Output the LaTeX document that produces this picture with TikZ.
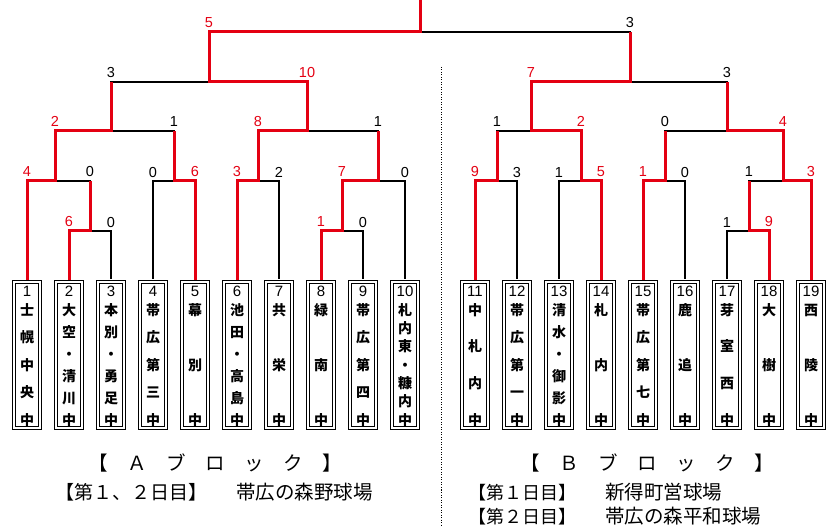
\documentclass[tikz,border=0pt]{standalone}
\usepackage{fontspec}
\setmainfont{Liberation Sans}
\newfontfamily\jfont{Noto Sans CJK JP}
\definecolor{winred}{RGB}{228,0,18}

\newcommand\bout[8][loseline]{%
  \coordinate (#2) at (#3,#4);
  \draw[loseline] (#6 |- #2) -- (#2);
  \draw[#1,line cap=butt] (#6) -- (#6 |- #2) node[score] {#8};
  \draw[winline] (#5) |- (#2) node[pos=.5,score,text=winred] {#7};
}
\newcommand\school[4]{%
  \node[teambox] (t#1) at (#2,355) {};
  \node[numtext] (t#1-n) at (#2,296.5) {#1};
  \foreach \kanji [count=\k] in {#4}
    \node[nametext] (t#1-\k) at ({#2},{310+110/#3*(\k-1)+5.3}) {\kanji};
  \node[nametext] (t#1-z) at (#2,425.3) {中};
}

\begin{document}
\begin{tikzpicture}[x=1pt,y=-1pt,
  winline/.style={draw=winred,line width=3pt,line cap=rect},
  loseline/.style={draw=black,line width=1.3pt,line cap=rect},
  score/.style={above=2.5pt,inner sep=0pt,font=\fontsize{14.5}{15}\selectfont},
  teambox/.style={draw=black,double=white,double distance=1.8pt,line width=0.9pt,
    minimum width=26.4pt,minimum height=146.4pt,inner sep=0pt,outer sep=3pt},
  numtext/.style={anchor=base,inner sep=0pt,font=\fontsize{15}{15}\selectfont},
  nametext/.style={anchor=base,inner sep=0pt,font=\jfont\bfseries\fontsize{14}{15}\selectfont},
  captext/.style={anchor=base west,inner sep=0pt,font=\jfont\fontsize{19.5}{20}\selectfont},
  sepline/.style={draw=black,line width=0.8pt,dash pattern=on 1pt off 1.5pt}]
\useasboundingbox (0,0) rectangle (839,526);

\school{1}{27}{4}{士,幌,中,央}
\school{2}{69}{5}{大,空,・,清,川}
\school{3}{111}{5}{本,別,・,勇,足}
\school{4}{153}{4}{帯,広,第,三}
\school{5}{195}{2}{幕,別}
\school{6}{237}{5}{池,田,・,高,島}
\school{7}{279}{2}{共,栄}
\school{8}{321}{2}{緑,南}
\school{9}{363}{4}{帯,広,第,四}
\school{10}{405}{6}{札,内,東,・,糠,内}
\school{11}{475}{3}{中,札,内}
\school{12}{517}{4}{帯,広,第,一}
\school{13}{559}{5}{清,水,・,御,影}
\school{14}{601}{2}{札,内}
\school{15}{643}{4}{帯,広,第,七}
\school{16}{685}{2}{鹿,追}
\school{17}{727}{3}{芽,室,西}
\school{18}{769}{2}{大,樹}
\school{19}{811}{2}{西,陵}

\bout{a23}{90}{231}{t2.north}{t3.north}{6}{0}
\bout[winline]{a1}{55}{181}{t1.north}{a23}{4}{0}
\bout{a45}{174}{181}{t5.north}{t4.north}{6}{0}
\bout[winline]{aL1}{111}{131}{a1}{a45}{2}{1}
\bout{a67}{258}{181}{t6.north}{t7.north}{3}{2}
\bout{a89}{342}{231}{t8.north}{t9.north}{1}{0}
\bout{a8x}{378}{181}{a89}{t10.north}{7}{0}
\bout[winline]{aL2}{307}{131}{a67}{a8x}{8}{1}
\bout[winline]{aA}{209}{82}{aL2}{aL1}{10}{3}

\bout{b1112}{497}{181}{t11.north}{t12.north}{9}{3}
\bout{b1314}{581}{181}{t14.north}{t13.north}{5}{1}
\bout[winline]{bR1}{531}{131}{b1314}{b1112}{2}{1}
\bout{b1516}{665}{181}{t15.north}{t16.north}{1}{0}
\bout{b1718}{749}{231}{t18.north}{t17.north}{9}{1}
\bout[winline]{b19}{783}{181}{t19.north}{b1718}{3}{1}
\bout[winline]{bR2}{727}{131}{b19}{b1516}{4}{0}
\bout[winline]{bB}{630}{82}{bR1}{bR2}{7}{3}

\bout[winline]{fin}{420}{32}{aA}{bB}{5}{3}
\coordinate (top) at (420,0);
\draw[winline] (fin) -- (top);

\coordinate (sepT) at (441,67);
\coordinate (sepB) at (441,526);
\draw[sepline] (sepT) -- (sepB);

\node[captext] (blockA) at (88.75,470.5) {【　Ａ　ブ　ロ　ッ　ク　】};
\node[captext,font=\jfont\fontsize{19}{19}\selectfont] (daysA) at (55,500) {【第１、２日目】};
\node[captext] (parkA) at (236,500) {帯広の森野球場};
\node[captext] (blockB) at (520,470.5) {【　Ｂ　ブ　ロ　ッ　ク　】};
\node[captext,font=\jfont\fontsize{18}{18}\selectfont] (day1B) at (468,499.5) {【第１日目】};
\node[captext] (park1B) at (605,500) {新得町営球場};
\node[captext,font=\jfont\fontsize{18}{18}\selectfont] (day2B) at (468,523.5) {【第２日目】};
\node[captext] (park2B) at (605,524) {帯広の森平和球場};
\end{tikzpicture}
\end{document}
